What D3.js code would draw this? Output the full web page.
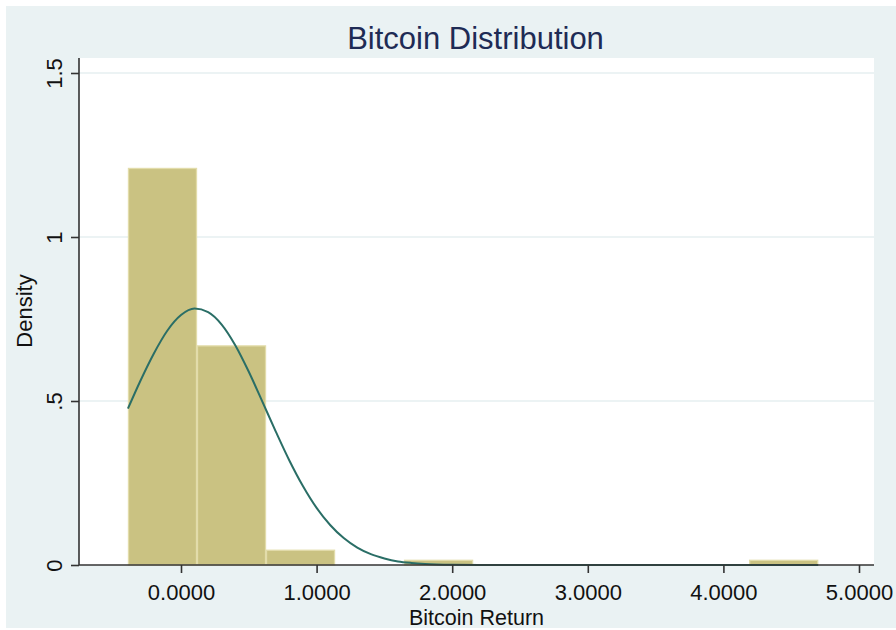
<!DOCTYPE html>
<html>
<head>
<meta charset="utf-8">
<script src="https://cdn.jsdelivr.net/npm/d3@7"></script>
<style>
  html, body { margin: 0; padding: 0; background: #ffffff; }
  svg { display: block; font-family: "Liberation Sans", Arial, sans-serif; }
</style>
</head>
<body>
<svg id="chart" width="896" height="630"></svg>
<script>
// Histogram bins (left/right edges) and their densities
const binStart = [-0.391, 0.118, 0.627, 1.136, 1.645, 2.154, 2.663, 3.172, 3.681, 4.190];
const binEnd   = [ 0.118, 0.627, 1.136, 1.645, 2.154, 2.663, 3.172, 3.681, 4.190, 4.699];
const density  = [ 1.209, 0.668, 0.045, 0, 0.0143, 0, 0, 0, 0, 0.0143];

// Overlaid normal density curve (x, density)
const curveX = [-0.391, -0.3, -0.2, -0.1, 0.0, 0.1, 0.2, 0.3, 0.4, 0.5, 0.6, 0.7, 0.8, 0.9,
                1.0, 1.1, 1.2, 1.3, 1.4, 1.5, 1.6, 1.7, 1.8, 2.0, 2.2, 2.5, 3.0, 3.5, 4.0, 4.699];
const curveY = [0.477, 0.561, 0.645, 0.715, 0.762, 0.782, 0.771, 0.733, 0.670, 0.589, 0.498, 0.406, 0.318, 0.240,
                0.174, 0.122, 0.082, 0.053, 0.033, 0.020, 0.011, 0.0063, 0.0034, 0.0009, 0.0002, 0, 0, 0, 0, 0];

// Axis ticks
const xTicks = [0, 1, 2, 3, 4, 5];
const yTicks = [0, 0.5, 1, 1.5];
const yTickLabels = ["0", ".5", "1", "1.5"];

const titleText = "Bitcoin Distribution";
const xTitle = "Bitcoin Return";
const yTitle = "Density";

const svg = d3.select("#chart");
const W = 896, H = 630;
const plot = { left: 79, right: 874, top: 58, bottom: 565 };
const FONT = "'Liberation Sans', Arial, sans-serif";

// Outer graph region
svg.append("rect").attr("x", 6).attr("y", 6).attr("width", W - 6).attr("height", H - 8)
  .attr("fill", "#EAF2F3");
// Plot region
svg.append("rect").attr("x", plot.left).attr("y", plot.top)
  .attr("width", plot.right - plot.left).attr("height", plot.bottom - plot.top)
  .attr("fill", "#ffffff");

const x = d3.scaleLinear().domain([0, 5]).range([181, 859]);
const y = d3.scaleLinear().domain([0, 1.5]).range([plot.bottom, 73]);

// Gridlines
svg.append("g").selectAll("line").data(yTicks.filter(d => d > 0)).join("line")
  .attr("x1", plot.left).attr("x2", plot.right)
  .attr("y1", d => y(d)).attr("y2", d => y(d))
  .attr("stroke", "#E6EFF1").attr("stroke-width", 1.6);

// Bars
const bins = binStart.map((s, i) => ({ x0: s, x1: binEnd[i], d: density[i] })).filter(b => b.d > 0);
svg.append("g").selectAll("rect").data(bins).join("rect")
  .attr("x", b => x(b.x0) + 0.5)
  .attr("width", b => x(b.x1) - x(b.x0) - 1)
  .attr("y", b => y(b.d))
  .attr("height", b => y(0) - y(b.d))
  .attr("fill", "#CAC282")
  .attr("stroke", "#E2DCAA")
  .attr("stroke-width", 1.3);

// Normal density curve
const pts = curveX.map((v, i) => [v, curveY[i]]);
svg.append("path").datum(pts)
  .attr("d", d3.line().x(d => x(d[0])).y(d => y(d[1])).curve(d3.curveMonotoneX))
  .attr("fill", "none").attr("stroke", "#2A6E66").attr("stroke-width", 2);

// Axes
const xAxis = d3.axisBottom(x).tickValues(xTicks).tickFormat(d3.format(".4f"))
  .tickSize(8).tickSizeOuter(0);
const gx = svg.append("g").attr("transform", `translate(0,${plot.bottom})`).call(xAxis);
gx.select(".domain").remove();
gx.append("line").attr("x1", plot.left).attr("x2", plot.right).attr("y1", 0).attr("y2", 0)
  .attr("stroke", "#333").attr("stroke-width", 1.6);
gx.selectAll(".tick line").attr("stroke", "#333").attr("stroke-width", 1.6);
gx.selectAll(".tick text").attr("y", 34.5).attr("dy", null)
  .attr("fill", "#111").style("font-size", "22px").style("font-family", FONT);

const yAxis = d3.axisLeft(y).tickValues(yTicks).tickFormat((d, i) => yTickLabels[i])
  .tickSize(8).tickSizeOuter(0);
const gy = svg.append("g").attr("transform", `translate(${plot.left},0)`).call(yAxis);
gy.select(".domain").remove();
gy.append("line").attr("x1", 0).attr("x2", 0).attr("y1", plot.top).attr("y2", plot.bottom)
  .attr("stroke", "#333").attr("stroke-width", 1.6);
gy.selectAll(".tick line").attr("stroke", "#333").attr("stroke-width", 1.6);
gy.selectAll(".tick text")
  .attr("x", 0).attr("dy", 0)
  .attr("transform", "translate(-17,0) rotate(-90)")
  .attr("text-anchor", "middle")
  .attr("fill", "#111").style("font-size", "22px").style("font-family", FONT);

// Titles
svg.append("text").attr("x", (plot.left + plot.right) / 2 - 1).attr("y", 48.5)
  .attr("text-anchor", "middle").attr("fill", "#1E2B55")
  .style("font-size", "31px").text(titleText);

svg.append("text").attr("x", (plot.left + plot.right) / 2).attr("y", 625)
  .attr("text-anchor", "middle").attr("fill", "#111")
  .style("font-size", "21.5px").text(xTitle);

svg.append("text").attr("transform", `translate(32,311) rotate(-90)`)
  .attr("text-anchor", "middle").attr("fill", "#111")
  .style("font-size", "22px").text(yTitle);
</script>
</body>
</html>
